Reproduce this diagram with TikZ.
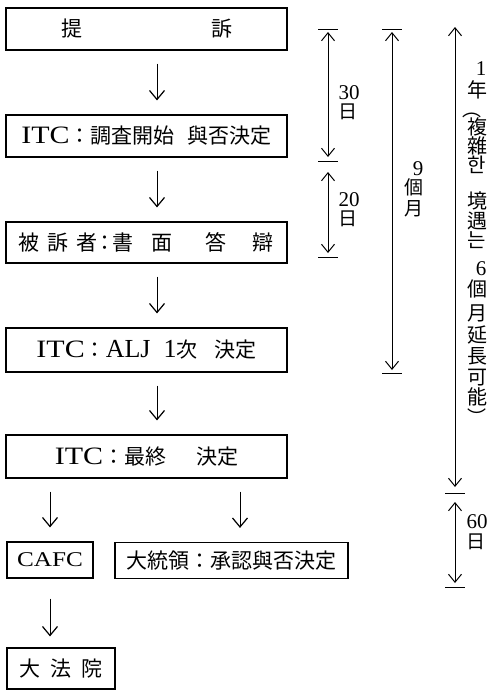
\documentclass[tikz,border=0pt]{standalone}
\usepackage{fontspec}
\setmainfont{Liberation Serif}
\newfontfamily\kr{Noto Sans CJK KR}
\newfontfamily\wide[FakeStretch=1.2]{Liberation Serif}
\usetikzlibrary{arrows.meta}
\newcommand\lat[1]{{\rmfamily\fontsize{26}{30}\selectfont #1}}
\newcommand\itc{{\wide\fontsize{25}{30}\selectfont ITC}}
\newcommand\num[1]{{\rmfamily\fontsize{21}{24}\selectfont #1}}

\begin{document}
\begin{tikzpicture}[x=1pt, y=-1pt,
    every node/.style={inner sep=0, font=\kr\fontsize{21}{25}\selectfont},
    box/.style={draw, line width=1.2pt, minimum width=281, minimum height=42},
    flow/.style={-{Straight Barb[length=9pt,width=15pt,line width=1.2pt]}, line width=0.8pt, shorten <=13pt, shorten >=14pt},
    span/.style={line width=0.6pt, {Straight Barb[length=8pt,width=13pt,line width=1pt]}-{Straight Barb[length=8pt,width=13pt,line width=1pt]}},
    tick/.style={line width=0.9pt},
    lab/.style={font=\kr\fontsize{19}{21}\selectfont, text height=0.78em, text depth=0.02em},
    nlab/.style={text height=0.66em, text depth=0pt}]
    \useasboundingbox (0,0) rectangle (489,691);
    % Main column
    \node[box] (file) at (146.5,29) {提\hspace{129pt}訴};
    \node[box] (start) at (146.5,136) {\itc：調査開始\hspace{13pt}與否決定};
    \node[box, minimum height=41] (answer) at (146.5,242.5) {被\hspace{8pt}訴\hspace{8pt}者\hspace{-4pt}：\hspace{-3pt}書\hspace{19pt}面\hspace{33pt}答\hspace{26pt}辯};
    \node[box, minimum height=44] (alj) at (146.5,350) {\itc：\lat{ALJ}\hspace{13pt}\lat{1}次\hspace{17pt}決定};
    \node[box, minimum height=43] (final) at (146.5,456.5) {\itc：最終\hspace{30pt}決定};
    % After the final decision
    \node[box, minimum width=86, minimum height=36] (cafc) at (50,560) {{\wide\fontsize{21}{26}\selectfont CAFC}};
    \node[box, minimum width=233, minimum height=36] (pres) at (231.5,560.5) {大統領：承認與否決定};
    \node[box, minimum width=108, minimum height=41] (court) at (61,668.5) {大\hspace{10pt}法\hspace{10pt}院};
    \coordinate (col) at (157,0);
    \coordinate (pcol) at (240,0);
    \draw[flow] (file.south -| col) -- (start.north -| col);
    \draw[flow] (start.south -| col) -- (answer.north -| col);
    \draw[flow] (answer.south -| col) -- (alj.north -| col);
    \draw[flow] (alj.south -| col) -- (final.north -| col);
    \draw[flow] (final.south -| cafc) -- (cafc);
    \draw[flow] (final.south -| pcol) -- (pres.north -| pcol);
    \draw[flow, shorten <=20pt, shorten >=11pt] (cafc) -- (court.north -| cafc);
    % Time spans
    \coordinate (a0) at (328,29);
    \coordinate (a1) at (328,161);
    \coordinate (a2) at (328,257);
    \coordinate (m0) at (392,29);
    \coordinate (m1) at (392,373);
    \coordinate (y0) at (455,27);
    \coordinate (y1) at (455,493);
    \coordinate (y2) at (455,587);
    \foreach \t in {a0,a1,a2,m0,m1,y1,y2}
        \draw[tick] ([xshift=-10pt]\t) -- ([xshift=10pt]\t);
    \draw[span, shorten <=3pt, shorten >=4pt] (a0) -- (a1);
    \draw[span, shorten <=11pt, shorten >=4pt] (a1) -- (a2);
    \draw[span, shorten <=3pt, shorten >=3pt] (m0) -- (m1);
    \draw[span, shorten >=6pt] (y0) -- (y1);
    \draw[span, shorten <=9pt, shorten >=4pt] (y1) -- (y2);
    \node[nlab] (n30) at (349,96) {\num{30}};
    \node[lab] (d30) at (348,115) {日};
    \node[nlab] (n20) at (349,203) {\num{20}};
    \node[lab] (d20) at (348,222) {日};
    \node[nlab] (n9) at (418,172) {\num{9}};
    \node[lab] (g9) at (414,191) {個};
    \node[lab] (m9) at (414,212) {月};
    \node[nlab] (n60) at (477,525) {\num{60}};
    \node[lab] (d60) at (476,545) {日};
    % Vertical note
    \node[nlab] (v1) at (481,72) {\num{1}};
    \node[nlab] (v6) at (481,272) {\num{6}};
    \foreach \ch/\yy in {年/94, 複/131, 雜/150, 한/169, 境/205, 遇/225, 는/244, 個/293, 月/317, 延/339, 長/360, 可/381, 能/401}
        \node[lab, font=\kr\fontsize{20}{22}\selectfont] (v\yy) at (477,\yy) {\ch};
    \node[lab, text height=0.3em, text depth=-0.05em] (po) at (472,115) {︵};
    \node[lab, text height=0.3em, text depth=-0.05em] (pc) at (477,423) {︶};
\end{tikzpicture}
\end{document}
